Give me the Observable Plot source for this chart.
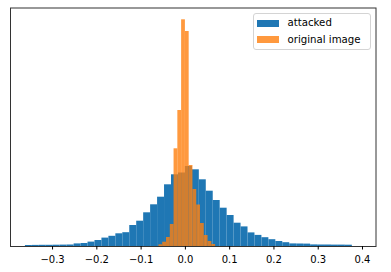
<!DOCTYPE html>
<html><head><meta charset="utf-8">
<script src="https://cdn.jsdelivr.net/npm/d3@7"></script>
<script src="https://cdn.jsdelivr.net/npm/@observablehq/plot@0.6"></script>
<style>
body{margin:0;background:#fff;}
#wrap{position:relative;width:391px;height:272px;font-family:"DejaVu Sans",sans-serif;}
.legend{position:absolute;left:252.5px;top:13px;width:118px;height:36.5px;box-sizing:border-box;border:1px solid #d4d4d4;border-radius:3px;background:rgba(255,255,255,0.8);font-size:10.2px;color:#000}
.legend .sw{position:absolute;left:3.5px;width:21.5px;height:7px}
.legend .lab{position:absolute;left:34px;line-height:12px;white-space:nowrap}
</style></head>
<body><div id="wrap"></div>
<script>
// Series names and colours
const seriesNames = ["attacked", "original image"];
const seriesColors = ["#1f77b4", "#ff7f0e"];

// "attacked" histogram: first bin edge, bin width, counts (arbitrary units)
const blueStart = -0.3613;
const blueWidth = 0.01571;
const blueCounts = [1.0, 1.1, 1.2, 1.2, 1.3, 1.4, 1.5, 2.6, 3.0, 4.4, 6.0, 8.4, 10.2, 12.7, 13.8,
  21.0, 25.3, 33.7, 41.7, 49.3, 61.7, 71.7, 73.5,
  80.0, 76.7, 66.7, 55.3, 46.0, 38.3, 31.0, 23.3, 19.6, 13.6, 11.1, 8.8, 6.8, 5.0, 3.8,
  2.6, 2.5, 2.4, 1.6, 1.5, 1.5, 1.4, 1.4, 1.3];

// "original image" histogram
const orangeStart = -0.0597;
const orangeWidth = 0.00853;
const orangeCounts = [1.7, 4.3, 9.0, 22.0, 97.7, 136.0, 226.7, 215.0, 81.0, 57.0, 41.5, 23.0, 11.0, 5.0, 2.0];

// x-axis ticks
const xTicks = [-0.3, -0.2, -0.1, 0.0, 0.1, 0.2, 0.3, 0.4];

const blue = blueCounts.map((c, i) => ({x1: blueStart + i * blueWidth, x2: blueStart + (i + 1) * blueWidth, y: c}));
const orange = orangeCounts.map((c, i) => ({x1: orangeStart + i * orangeWidth, x2: orangeStart + (i + 1) * orangeWidth, y: c}));

const fmt = d3.format(".1f");
const chart = Plot.plot({
  width: 391, height: 272,
  marginLeft: 10, marginRight: 15.5, marginTop: 7.5, marginBottom: 26,
  style: {fontFamily: "DejaVu Sans, sans-serif", fontSize: "10px", background: "white", color: "black"},
  x: {domain: [-0.395, 0.4305]},
  y: {domain: [0, 238.5], axis: null},
  marks: [
    Plot.rect(blue, {x1: "x1", x2: "x2", y1: 0, y2: "y", fill: seriesColors[0]}),
    Plot.rect(orange, {x1: "x1", x2: "x2", y1: 0, y2: "y", fill: seriesColors[1], fillOpacity: 0.8}),
    Plot.frame({stroke: "#333"}),
    Plot.axisX({ticks: xTicks, tickSize: 3.5, tickPadding: 6, tickFormat: fmt, label: null})
  ]
});
const wrap = document.getElementById("wrap");
wrap.appendChild(chart);

const leg = document.createElement("div");
leg.className = "legend";
const rows = [{sw: 5.8, lab: 3.4}, {sw: 21.8, lab: 19.5}];
seriesNames.forEach((name, i) => {
  const sw = document.createElement("div");
  sw.className = "sw";
  sw.style.top = rows[i].sw + "px";
  sw.style.background = seriesColors[i];
  if (i === 1) sw.style.opacity = 0.8;
  const lab = document.createElement("div");
  lab.className = "lab";
  lab.style.top = rows[i].lab + "px";
  lab.textContent = name;
  leg.appendChild(sw); leg.appendChild(lab);
});
wrap.appendChild(leg);
</script>
</body></html>
